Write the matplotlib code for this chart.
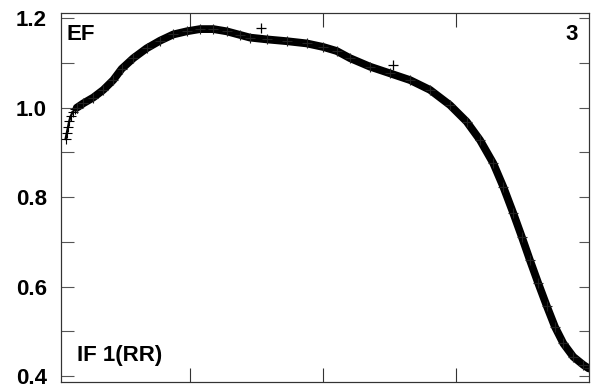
import matplotlib
matplotlib.use("Agg")
import matplotlib.pyplot as plt
from matplotlib.ticker import MultipleLocator

plt.rcParams['font.family'] = ['Liberation Sans', 'DejaVu Sans']
plt.rcParams['font.weight'] = 'bold'

# curve values
x_vals = [0.064, 0.073, 0.083, 0.092, 0.103, 0.117, 0.135, 0.148, 0.198, 0.273,
          0.348, 0.423, 0.486, 0.574, 0.674, 0.774, 0.874, 0.975, 1.075, 1.175,
          1.276, 1.376, 1.451, 1.576, 1.726, 1.877, 2.002, 2.103, 2.203, 2.353,
          2.504, 2.654, 2.805, 2.955, 3.080, 3.180, 3.280, 3.356, 3.431, 3.494,
          3.556, 3.619, 3.682, 3.744, 3.807, 3.882, 3.957, 3.998]
y_vals = [0.930, 0.943, 0.957, 0.970, 0.981, 0.990, 0.997, 1.000, 1.010, 1.023,
          1.040, 1.062, 1.087, 1.111, 1.133, 1.150, 1.164, 1.171, 1.176, 1.176,
          1.171, 1.163, 1.157, 1.153, 1.149, 1.144, 1.136, 1.127, 1.111, 1.092,
          1.077, 1.062, 1.040, 1.006, 0.969, 0.928, 0.876, 0.823, 0.764, 0.712,
          0.659, 0.607, 0.557, 0.510, 0.473, 0.443, 0.425, 0.417]
outlier_x = [1.534, 2.529]
outlier_y = [1.178, 1.096]

y_ticks = [0.4, 0.6, 0.8, 1.0, 1.2]
y_labels = ['0.4', '0.6', '0.8', '1.0', '1.2']
x_ticks = [1, 2, 3]

fig = plt.figure(figsize=(5.91, 3.87), dpi=100)
ax = fig.add_axes([61/591, 4.7/387, 528/591, 369.3/387])

dense = 7
ax.plot(x_vals[dense:], y_vals[dense:], color='black', lw=5.6,
        solid_capstyle='round', solid_joinstyle='round', zorder=2)
ax.plot(x_vals[dense:], y_vals[dense:], linestyle='none', marker='+', ms=7.5,
        mew=0.8, color='#222222', zorder=3)
ax.plot(x_vals[:dense + 1], y_vals[:dense + 1], linestyle='-', lw=1.6,
        marker='+', ms=6.5, mew=0.8, color='black', zorder=2)
ax.plot(outlier_x, outlier_y, linestyle='none', marker='+', ms=6.5, mew=0.9,
        color='black', zorder=3)

ax.set_xlim(0.03, 4.0)
ax.set_ylim(0.386, 1.212)

ax.set_yticks(y_ticks)
ax.set_yticklabels(y_labels)
ax.yaxis.set_minor_locator(MultipleLocator(0.1))
ax.set_xticks(x_ticks)
ax.set_xticklabels([])

ax.tick_params(axis='y', which='both', direction='in', length=9.5, width=0.8,
               color='#555555', left=True, right=False, labelsize=16, pad=10)
ax.tick_params(axis='x', which='both', direction='in', length=10, width=0.8,
               color='#333333', top=True, bottom=True)
for lab in ax.get_yticklabels():
    lab.set_fontweight('bold')

ax2 = ax.twinx()
ax2.set_ylim(ax.get_ylim())
ax2.set_yticks(y_ticks)
ax2.yaxis.set_minor_locator(MultipleLocator(0.1))
ax2.set_yticklabels([])
ax2.tick_params(axis='y', which='both', direction='in', length=7, width=0.8,
                color='#555555')

for a in (ax, ax2):
    for s in a.spines.values():
        s.set_linewidth(0.8)
        s.set_color('#333333')

ax.text(0.011, 0.927, 'EF', transform=ax.transAxes, fontsize=16,
        fontweight='bold', ha='left', va='baseline')
ax.text(0.979, 0.927, '3', transform=ax.transAxes, fontsize=16,
        fontweight='bold', ha='right', va='baseline')
ax.text(0.030, 0.058, 'IF 1(RR)', transform=ax.transAxes, fontsize=16,
        fontweight='bold', ha='left', va='baseline')

fig.savefig('out.png', dpi=100)
